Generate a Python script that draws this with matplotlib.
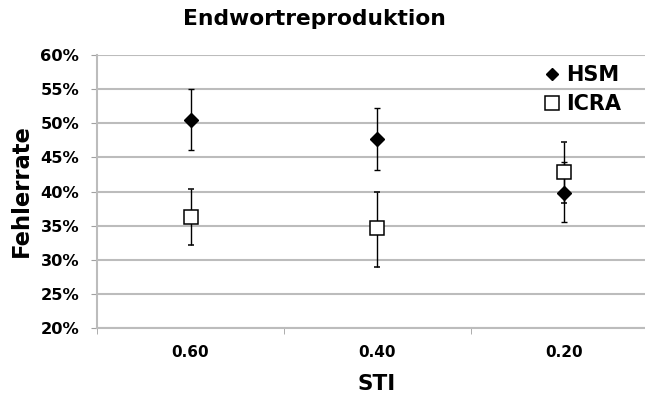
import matplotlib
matplotlib.use("Agg")
import matplotlib.pyplot as plt
from matplotlib.lines import Line2D
from matplotlib.ticker import PercentFormatter

# data
sti = ["0.60", "0.40", "0.20"]
hsm = [50.5, 47.7, 39.8]
hsm_lo = [46.1, 43.2, 35.5]
hsm_hi = [55.0, 52.2, 44.3]
icra = [36.3, 34.6, 42.8]
icra_lo = [32.1, 29.0, 38.3]
icra_hi = [40.3, 40.0, 47.2]

plt.rcParams["font.family"] = ["DejaVu Sans"]
plt.rcParams["font.weight"] = "bold"

fig = plt.figure(figsize=(6.45, 3.96), dpi=100)
ax = fig.add_axes([97 / 645, 1 - 328 / 396, 561 / 645, 273 / 396])

x = list(range(len(sti)))
ax.errorbar(x, hsm, yerr=[[m - l for m, l in zip(hsm, hsm_lo)], [h - m for m, h in zip(hsm, hsm_hi)]],
            fmt="D", color="black", markersize=7.5, ecolor="black", elinewidth=1,
            capsize=2.4, capthick=1, zorder=3)
ax.errorbar(x, icra, yerr=[[m - l for m, l in zip(icra, icra_lo)], [h - m for m, h in zip(icra, icra_hi)]],
            fmt="s", color="black", markerfacecolor="white", markeredgewidth=1.1, markersize=9.5,
            ecolor="black", elinewidth=1, capsize=2.4, capthick=1, zorder=3)

ax.set_xlim(-0.5, 2.5)
ax.set_ylim(20, 60)
ax.set_yticks(range(20, 61, 5))
ax.yaxis.set_major_formatter(PercentFormatter(decimals=0))
ax.set_xticks(x)
ax.set_xticklabels(sti)
ax.set_xticks([-0.5, 0.5, 1.5, 2.5], minor=True)
ax.tick_params(axis="x", which="major", length=0, pad=12, labelsize=11)
ax.tick_params(axis="x", which="minor", length=4.3, color="#a0a0a0")
ax.tick_params(axis="y", length=4.3, color="#a0a0a0", labelsize=11.7, pad=8.5)

ax.grid(axis="y", color="#bcbcbc", linewidth=1.5)
ax.set_axisbelow(True)
for s in ["top", "right"]:
    ax.spines[s].set_visible(False)
ax.spines["left"].set_color("#bcbcbc")
ax.spines["bottom"].set_color("#bcbcbc")
ax.spines["left"].set_linewidth(1.5)
ax.spines["bottom"].set_linewidth(1.5)

fig.text(314 / 645, 1 - 19 / 396, "Endwortreproduktion", ha="center", va="center",
         fontsize=15.7, fontweight="bold")
fig.text(21 / 645, 1 - 191 / 396, "Fehlerrate", ha="center", va="center",
         rotation=90, fontsize=16.3, fontweight="bold")
fig.text(377 / 645, 1 - 384 / 396, "STI", ha="center", va="center",
         fontsize=15.5, fontweight="bold")

handles = [
    Line2D([], [], marker="D", linestyle="none", color="black", markersize=6.2),
    Line2D([], [], marker="s", linestyle="none", color="black", markerfacecolor="white",
           markeredgewidth=1.1, markersize=9.5),
]
fig.legend(handles, ["HSM", "ICRA"], loc="upper left", bbox_to_anchor=(545 / 645, 1 - 65 / 396),
           frameon=False, prop={"size": 15, "weight": "bold"}, borderpad=0, handletextpad=0.3,
           labelspacing=0.45, handlelength=0.7, borderaxespad=0)

fig.savefig("out.png", dpi=100)
